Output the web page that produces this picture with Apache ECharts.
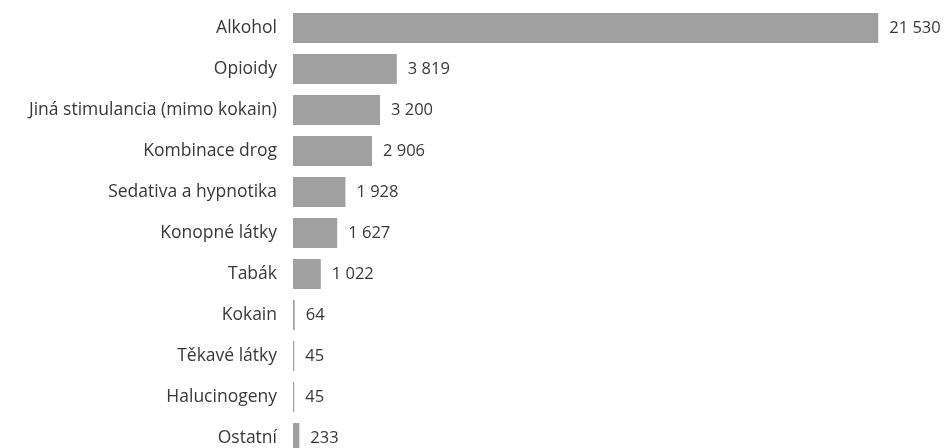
<!DOCTYPE html>
<html>
<head>
<meta charset="utf-8">
<script src="https://cdn.jsdelivr.net/npm/echarts@6/dist/echarts.min.js"></script>
<style>
  html, body { margin: 0; padding: 0; background: #fff; }
</style>
</head>
<body>
<div id="drug-chart" style="width: 948px; height: 448px;"></div>
<script>
const categories = [
  'Alkohol', 'Opioidy', 'Jiná stimulancia (mimo kokain)', 'Kombinace drog',
  'Sedativa a hypnotika', 'Konopné látky', 'Tabák', 'Kokain',
  'Těkavé látky', 'Halucinogeny', 'Ostatní'
];
const counts = [21530, 3819, 3200, 2906, 1928, 1627, 1022, 64, 45, 45, 233];

const chart = echarts.init(document.getElementById('drug-chart'));

// cislo s mezerou jako oddelovacem tisicu
function fmt(v) {
  return String(v).replace(/\B(?=(\d{3})+(?!\d))/g, ' ');
}

const option = {
  animation: false,
  textStyle: { fontFamily: 'Open Sans' },
  grid: {
    left: 293,
    top: 7.5,
    width: 598,
    height: 451,
    outerBoundsMode: 'none'
  },
  xAxis: {
    type: 'value',
    min: 0,
    max: 22000,
    show: false
  },
  yAxis: {
    type: 'category',
    data: categories,
    inverse: true,
    axisLine: { show: false },
    axisTick: { show: false },
    axisLabel: {
      color: '#383838',
      fontSize: 17.5,
      margin: 16
    }
  },
  series: [
    {
      type: 'bar',
      data: counts,
      barWidth: 30,
      itemStyle: { color: '#a0a0a0' },
      label: {
        show: true,
        position: 'right',
        distance: 11,
        color: '#383838',
        fontSize: 16.5,
        formatter: p => fmt(p.value)
      }
    }
  ]
};

chart.setOption(option);
</script>
</body>
</html>
